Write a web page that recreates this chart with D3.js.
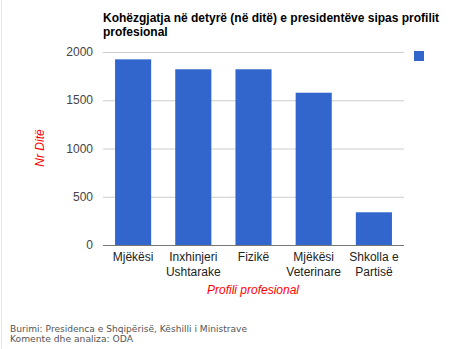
<!DOCTYPE html>
<html>
<head>
<meta charset="utf-8">
<script src="https://cdn.jsdelivr.net/npm/d3@7"></script>
<style>
  body { margin: 0; background: #fff; }
  svg { display: block; }
</style>
</head>
<body>
<div id="chart"></div>
<script>
// chart data
var categories = ["Mjëkësi", "Inxhinjeri Ushtarake", "Fizikë", "Mjëkësi Veterinare", "Shkolla e Partisë"]
var catLines = [["Mjëkësi"], ["Inxhinjeri", "Ushtarake"], ["Fizikë"], ["Mjëkësi", "Veterinare"], ["Shkolla e", "Partisë"]]
var values = [1924, 1821, 1821, 1578, 339]
var yTicks = [0, 500, 1000, 1500, 2000]
var titleLines = ["Kohëzgjatja në detyrë (në ditë) e presidentëve sipas profilit", "profesional"]
var footerLines = ["Burimi: Presidenca e Shqipërisë, Këshilli i Ministrave", "Komente dhe analiza: ODA"]

drawChart()

function drawChart() {
    var width = 472, height = 349
    var font = "'Liberation Sans Narrow', 'Liberation Sans', Arial, sans-serif"

    var svg = d3.select("#chart")
        .append("svg")
        .attr("width", width)
        .attr("height", height)

    // faint left border
    svg.append("line")
        .attr("x1", 1.5).attr("x2", 1.5)
        .attr("y1", 0).attr("y2", height)
        .attr("stroke", "#e4e4e4")

    var x = d3.scaleBand()
        .domain(categories)
        .range([103, 404])
        .paddingInner(0.4)
        .paddingOuter(0.2)

    var y = d3.scaleLinear()
        .domain([0, 2000])
        .range([245, 52])

    // gridlines
    svg.selectAll(".grid")
        .data(yTicks.filter(function (d) { return d > 0 }))
        .enter()
        .append("line")
        .attr("x1", 103).attr("x2", 404)
        .attr("y1", function (d) { return y(d) + 0.5 })
        .attr("y2", function (d) { return y(d) + 0.5 })
        .attr("stroke", "#cccccc")

    // y tick labels
    svg.selectAll(".ytick")
        .data(yTicks)
        .enter()
        .append("text")
        .attr("x", 93)
        .attr("y", function (d) { return y(d) + 4 })
        .attr("text-anchor", "end")
        .style("font-family", font)
        .style("font-size", "12px")
        .attr("fill", "#444")
        .text(function (d) { return d })

    // bars
    svg.selectAll(".bar")
        .data(values)
        .enter()
        .append("rect")
        .attr("x", function (d, i) { return x(categories[i]) })
        .attr("width", x.bandwidth())
        .attr("y", function (d) { return y(d) })
        .attr("height", function (d) { return y(0) - y(d) })
        .attr("fill", "#3366cc")

    // baseline
    svg.append("line")
        .attr("x1", 103).attr("x2", 404)
        .attr("y1", y(0) + 0.5).attr("y2", y(0) + 0.5)
        .attr("stroke", "#777")

    // x labels
    catLines.forEach(function (lines, i) {
        var cx = x(categories[i]) + x.bandwidth() / 2
        lines.forEach(function (t, j) {
            svg.append("text")
                .attr("x", cx)
                .attr("y", 261 + j * 15)
                .attr("text-anchor", "middle")
                .style("font-family", font)
                .style("font-size", "12px")
                .attr("fill", "#222")
                .text(t)
        })
    })

    // axis titles
    svg.append("text")
        .attr("x", 253)
        .attr("y", 294)
        .attr("text-anchor", "middle")
        .style("font-family", font)
        .style("font-size", "12px")
        .style("font-style", "italic")
        .attr("fill", "#ff0000")
        .text("Profili profesional")

    svg.append("text")
        .attr("transform", "translate(44,148)rotate(-90)")
        .attr("text-anchor", "middle")
        .style("font-family", font)
        .style("font-size", "12px")
        .style("font-style", "italic")
        .attr("fill", "#ff0000")
        .text("Nr Ditë")

    // title
    titleLines.forEach(function (t, i) {
        svg.append("text")
            .attr("x", 103)
            .attr("y", 21.5 + i * 14)
            .style("font-family", font)
            .style("font-size", "12px")
            .style("font-weight", "bold")
            .attr("fill", "#000")
            .text(t)
    })

    // legend square
    svg.append("rect")
        .attr("x", 414).attr("y", 51)
        .attr("width", 10).attr("height", 10)
        .attr("fill", "#3366cc")

    // footer
    var footW = [237, 123]
    footerLines.forEach(function (t, i) {
        svg.append("text")
            .attr("x", 10)
            .attr("y", 332 + i * 10)
            .attr("textLength", footW[i])
            .attr("lengthAdjust", "spacingAndGlyphs")
            .style("font-family", "'DejaVu Sans', Verdana, sans-serif")
            .style("font-size", "8.5px")
            .attr("fill", "#555")
            .text(t)
    })
}
</script>
</body>
</html>
